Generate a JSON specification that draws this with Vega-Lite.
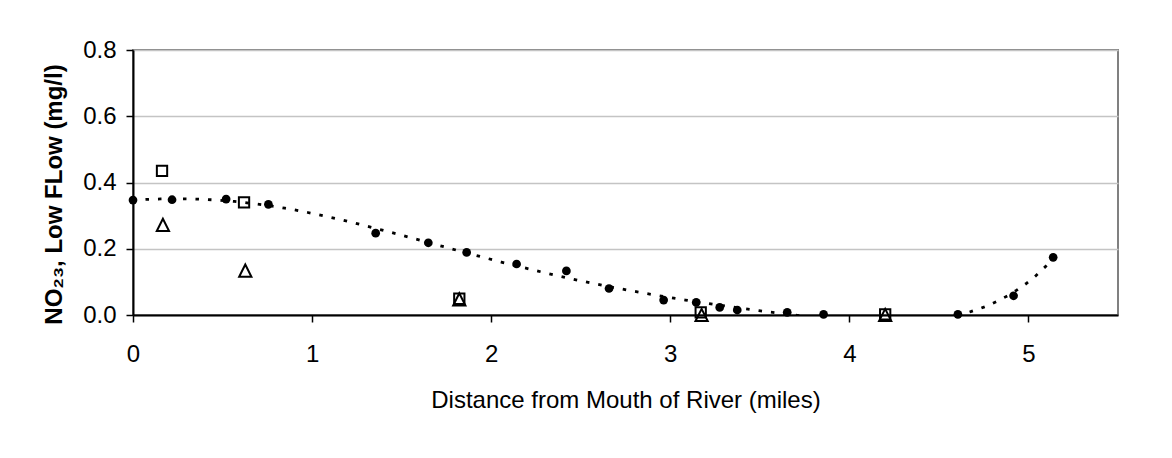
{
  "$schema": "https://vega.github.io/schema/vega-lite/v6.json",
  "width": 985,
  "height": 265,
  "autosize": "none",
  "padding": {"left": 133, "top": 50, "right": 54, "bottom": 143},
  "background": "white",
  "config": {
    "font": "Liberation Sans",
    "view": {"stroke": "#808080", "strokeWidth": 2}
  },
  "datasets": {
    "circles": [
      {"x": 0, "y": 0.347}, {"x": 0.218, "y": 0.348}, {"x": 0.52, "y": 0.35}, {"x": 0.756, "y": 0.334},
      {"x": 1.355, "y": 0.247}, {"x": 1.649, "y": 0.218}, {"x": 1.863, "y": 0.189}, {"x": 2.142, "y": 0.154},
      {"x": 2.42, "y": 0.133}, {"x": 2.658, "y": 0.08}, {"x": 2.963, "y": 0.045}, {"x": 3.145, "y": 0.038},
      {"x": 3.276, "y": 0.023}, {"x": 3.374, "y": 0.015}, {"x": 3.653, "y": 0.008}, {"x": 3.856, "y": 0.002},
      {"x": 4.606, "y": 0.002}, {"x": 4.917, "y": 0.058}, {"x": 5.138, "y": 0.174}
    ],
    "squares": [
      {"x": 0.162, "y": 0.435}, {"x": 0.62, "y": 0.34}, {"x": 1.822, "y": 0.049}, {"x": 3.17, "y": 0.008}, {"x": 4.2, "y": 0.002}
    ],
    "triangles": [
      {"x": 0.167, "y": 0.272}, {"x": 0.627, "y": 0.134}, {"x": 1.822, "y": 0.047}, {"x": 3.175, "y": 0.0}, {"x": 4.2, "y": 0.0}
    ]
  },
  "layer": [
    {
      "data": {"name": "circles"},
      "transform": [{"regression": "y", "on": "x", "method": "poly", "order": 6, "extent": [0, 5.14]}],
      "mark": {"type": "line", "color": "black", "strokeWidth": 2.8, "strokeDash": [3.5, 9], "clip": true},
      "encoding": {
        "x": {
          "field": "x", "type": "quantitative",
          "scale": {"domain": [0, 5.5], "nice": false, "zero": false},
          "axis": {
            "title": "Distance from Mouth of River (miles)",
            "values": [0, 1, 2, 3, 4, 5], "format": "d",
            "grid": false, "labelFlush": false,
            "domainColor": "black", "domainWidth": 2,
            "tickColor": "black", "tickWidth": 1.5, "tickSize": 7,
            "labelFontSize": 24, "labelColor": "black", "labelPadding": 20,
            "titleFontSize": 24, "titleFontWeight": "normal", "titleColor": "black", "titlePadding": 22
          }
        },
        "y": {
          "field": "y", "type": "quantitative",
          "scale": {"domain": [0, 0.8], "nice": false, "zero": false},
          "axis": {
            "title": "NO₂₃, Low FLow (mg/l)",
            "values": [0, 0.2, 0.4, 0.6, 0.8], "format": ".1f",
            "grid": true, "gridColor": "#c4c4c4", "gridWidth": 1.5,
            "labelFlush": false,
            "domainColor": "black", "domainWidth": 2,
            "tickColor": "black", "tickWidth": 1.5, "tickSize": 7,
            "labelFontSize": 24, "labelColor": "black", "labelPadding": 10,
            "titleFontSize": 24, "titleFontWeight": "bold", "titleColor": "black", "titlePadding": 16,
            "titleY": 144
          }
        }
      }
    },
    {
      "data": {"name": "circles"},
      "mark": {"type": "point", "shape": "circle", "filled": true, "color": "black", "size": 76, "opacity": 1},
      "encoding": {
        "x": {"field": "x", "type": "quantitative"},
        "y": {"field": "y", "type": "quantitative"}
      }
    },
    {
      "data": {"name": "squares"},
      "mark": {"type": "point", "shape": "square", "filled": false, "color": "black", "strokeWidth": 2, "size": 106, "opacity": 1},
      "encoding": {
        "x": {"field": "x", "type": "quantitative"},
        "y": {"field": "y", "type": "quantitative"}
      }
    },
    {
      "data": {"name": "triangles"},
      "mark": {"type": "point", "shape": "M0,-1L-1,1L1,1Z", "filled": false, "color": "black", "strokeWidth": 2, "size": 150, "opacity": 1},
      "encoding": {
        "x": {"field": "x", "type": "quantitative"},
        "y": {"field": "y", "type": "quantitative"}
      }
    }
  ]
}
